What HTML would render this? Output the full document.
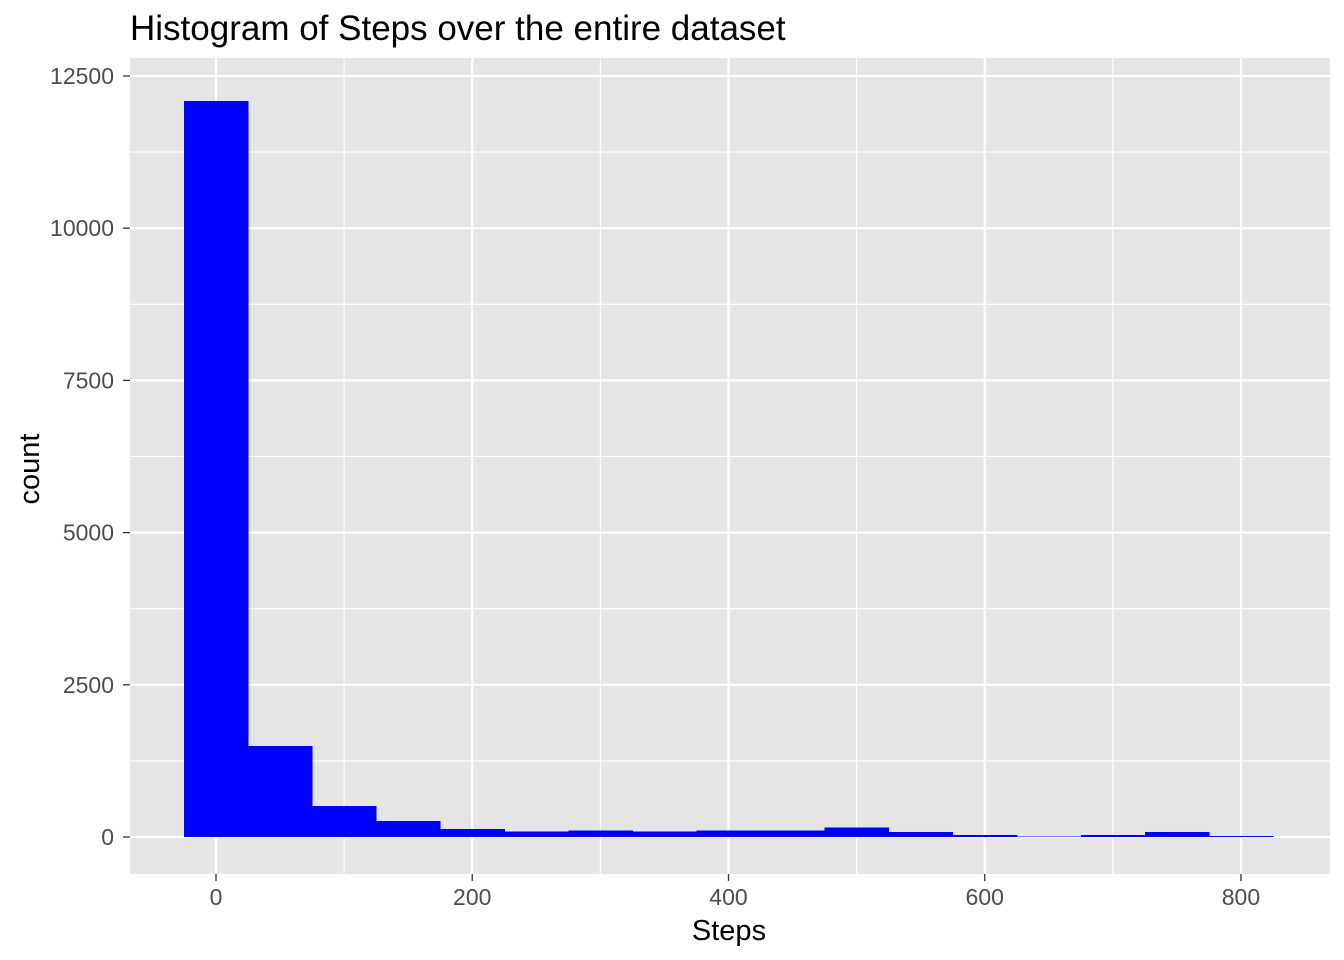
<!DOCTYPE html>
<html><head><meta charset="utf-8"><style>
body{margin:0;background:#fff;}
svg{display:block;font-family:"Liberation Sans",Arial,sans-serif;}
</style></head><body>
<svg id="chart" width="1344" height="960">
<text x="130" y="40" font-size="35" fill="#000">Histogram of Steps over the entire dataset</text>
<rect x="130" y="58" width="1200" height="816" fill="#e5e5e5"/>
<g id="grid"></g><g id="bars" shape-rendering="crispEdges"></g><g id="axes"></g>
<text x="729" y="940" font-size="29" text-anchor="middle" fill="#000">Steps</text>
<text transform="translate(39,469) rotate(-90)" font-size="29" text-anchor="middle" fill="#000">count</text>
</svg>
<script>
const binCenters=[0,50,100,150,200,250,300,350,400,450,500,550,600,650,700,750,800];
const counts=[12090,1495,509,263,135,88,105,88,105,103,158,85,30,12,30,85,18];
const xTicks=[0,200,400,600,800];
const yTicks=[0,2500,5000,7500,10000,12500];
const binWidth=50;
const ns="http://www.w3.org/2000/svg";
const X=v=>216+v*1.2812;
const Y=v=>837-v*(761/12500);
function mk(t,a,p){const e=document.createElementNS(ns,t);for(const k in a)e.setAttribute(k,a[k]);p.appendChild(e);return e;}
const grid=document.getElementById('grid'),bars=document.getElementById('bars'),axes=document.getElementById('axes');
for(let i=0;i<yTicks.length;i++){
  const l=mk('line',{x1:130,x2:1330,y1:Y(yTicks[i]),y2:Y(yTicks[i]),stroke:'#fff','stroke-width':2.2},grid);
  
  
  if(i<yTicks.length-1){const m=(yTicks[i]+yTicks[i+1])/2;
    const l2=mk('line',{x1:130,x2:1330,y1:Y(m),y2:Y(m),stroke:'#fff','stroke-width':1.1},grid);
    
    }
  const t=mk('text',{x:114,y:Y(yTicks[i])+8,'font-size':23,'text-anchor':'end',fill:'#4d4d4d'},axes);
  t.textContent=yTicks[i];
  
  
  const tk=mk('line',{x1:123,x2:130,y1:Y(yTicks[i]),y2:Y(yTicks[i]),stroke:'#333','stroke-width':1.3},axes);
  
  
}
for(let i=0;i<xTicks.length;i++){
  const l=mk('line',{x1:X(xTicks[i]),x2:X(xTicks[i]),y1:58,y2:874,stroke:'#fff','stroke-width':2.2},grid);
  
  
  if(i<xTicks.length-1){const m=(xTicks[i]+xTicks[i+1])/2;
    const l2=mk('line',{x1:X(m),x2:X(m),y1:58,y2:874,stroke:'#fff','stroke-width':1.1},grid);
    
    }
  const t=mk('text',{x:X(xTicks[i]),y:905,'font-size':23,'text-anchor':'middle',fill:'#4d4d4d'},axes);
  t.textContent=xTicks[i];
  
  
  const tk=mk('line',{x1:X(xTicks[i]),x2:X(xTicks[i]),y1:874,y2:881,stroke:'#333','stroke-width':1.3},axes);
  
  
}
binCenters.forEach((c,i)=>{
  const x0=X(c-binWidth/2),x1=X(c+binWidth/2);
  const r=mk('rect',{x:x0,y:Y(counts[i]),width:x1-x0+0.5,height:Y(0)-Y(counts[i]),fill:'#0000ff'},bars);
  
  
});
</script>
</body></html>
